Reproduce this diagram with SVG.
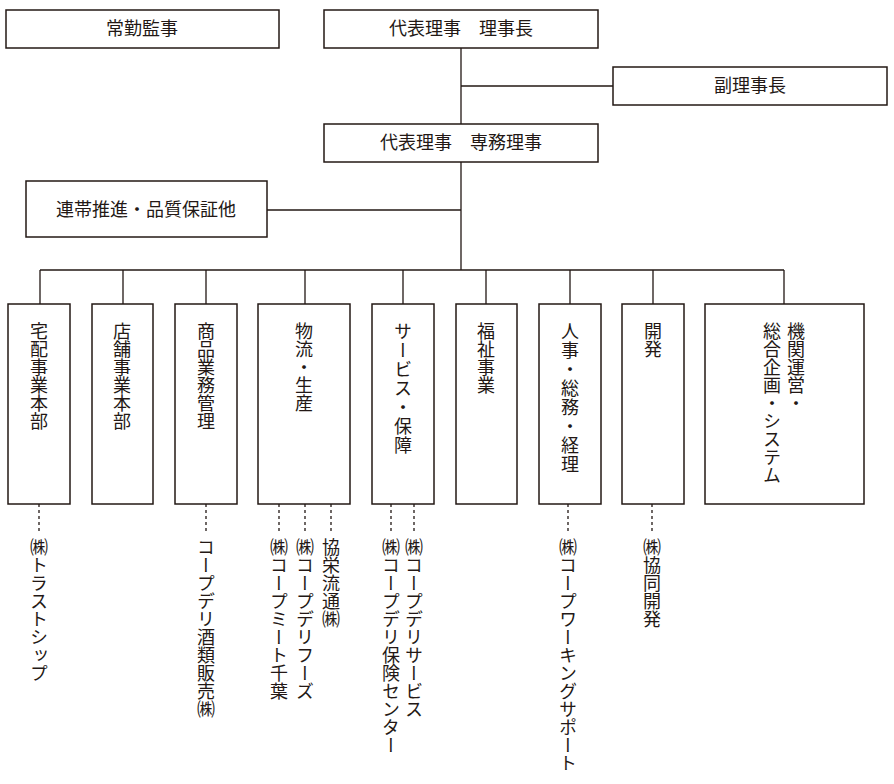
<svg xmlns="http://www.w3.org/2000/svg" width="894" height="784" viewBox="0 0 894 784">
<style>
.b{fill:#fff;stroke:#231815;stroke-width:1.5}
.l{stroke:#231815;stroke-width:1.3;fill:none}
.d{stroke:#231815;stroke-width:1.3;stroke-dasharray:3 3;fill:none}
text{font-family:"Noto Sans CJK JP",sans-serif;font-size:18px;fill:#231815}
.h{text-anchor:middle}
.v{writing-mode:vertical-rl;text-anchor:start}
</style>
<rect width="894" height="784" fill="#fff"/>
<g id="connectors">
<path class="l" d="M461 48V270M461 86H613M461 210H267M40 270H784M40 270V304M123 270V304M206 270V304M305 270V304M403 270V304M486 270V304M570 270V304M653 270V304M784 270V304"/>
<path class="d" d="M39 504V532M206 504V532M279 504V532M305 504V532M331 504V532M391 504V532M414 504V532M568 504V532M652 504V532"/>
</g>
<g id="n1"><rect class="b" x="6" y="10" width="273" height="38"/><text class="h" x="142" y="35">常勤監事</text></g>
<g id="n2"><rect class="b" x="324" y="10" width="274" height="38"/><text class="h" x="461" y="35">代表理事　理事長</text></g>
<g id="n3"><rect class="b" x="613" y="67" width="274" height="38"/><text class="h" x="750" y="92">副理事長</text></g>
<g id="n4"><rect class="b" x="324" y="124" width="274" height="38"/><text class="h" x="461" y="149">代表理事　専務理事</text></g>
<g id="n5"><rect class="b" x="26" y="181" width="241" height="56"/><text class="h" x="146" y="216">連帯推進・品質保証他</text></g>
<g id="d1"><rect class="b" x="8" y="304" width="62" height="200"/><text class="v" x="39" y="322">宅配事業本部</text></g>
<g id="d2"><rect class="b" x="92" y="304" width="61" height="200"/><text class="v" x="122" y="322">店舗事業本部</text></g>
<g id="d3"><rect class="b" x="175" y="304" width="62" height="200"/><text class="v" x="206" y="322">商品業務管理</text></g>
<g id="d4"><rect class="b" x="258" y="304" width="92" height="200"/><text class="v" x="304" y="322">物流・生産</text></g>
<g id="d5"><rect class="b" x="372" y="304" width="62" height="200"/><text class="v" x="403" y="322" letter-spacing="1">サービス・保障</text></g>
<g id="d6"><rect class="b" x="456" y="304" width="61" height="200"/><text class="v" x="486" y="322">福祉事業</text></g>
<g id="d7"><rect class="b" x="539" y="304" width="62" height="200"/><text class="v" x="570" y="322" letter-spacing="1">人事・総務・経理</text></g>
<g id="d8"><rect class="b" x="622" y="304" width="62" height="200"/><text class="v" x="653" y="322">開発</text></g>
<g id="d9"><rect class="b" x="705" y="304" width="159" height="200"/><text class="v" x="796" y="322">機関運営・</text><text class="v" x="772" y="322">総合企画・システム</text></g>
<g id="c1"><text class="v" x="39" y="538">㈱トラストシップ</text></g>
<g id="c2"><text class="v" x="206" y="538">コープデリ酒類販売㈱</text></g>
<g id="c3"><text class="v" x="279" y="538">㈱コープミート千葉</text></g>
<g id="c4"><text class="v" x="305" y="538">㈱コープデリフーズ</text></g>
<g id="c5"><text class="v" x="331" y="538">協栄流通㈱</text></g>
<g id="c6"><text class="v" x="391" y="538">㈱コープデリ保険センター</text></g>
<g id="c7"><text class="v" x="414" y="538">㈱コープデリサービス</text></g>
<g id="c8"><text class="v" x="568" y="538">㈱コープワーキングサポート</text></g>
<g id="c9"><text class="v" x="652" y="538">㈱協同開発</text></g>
</svg>
